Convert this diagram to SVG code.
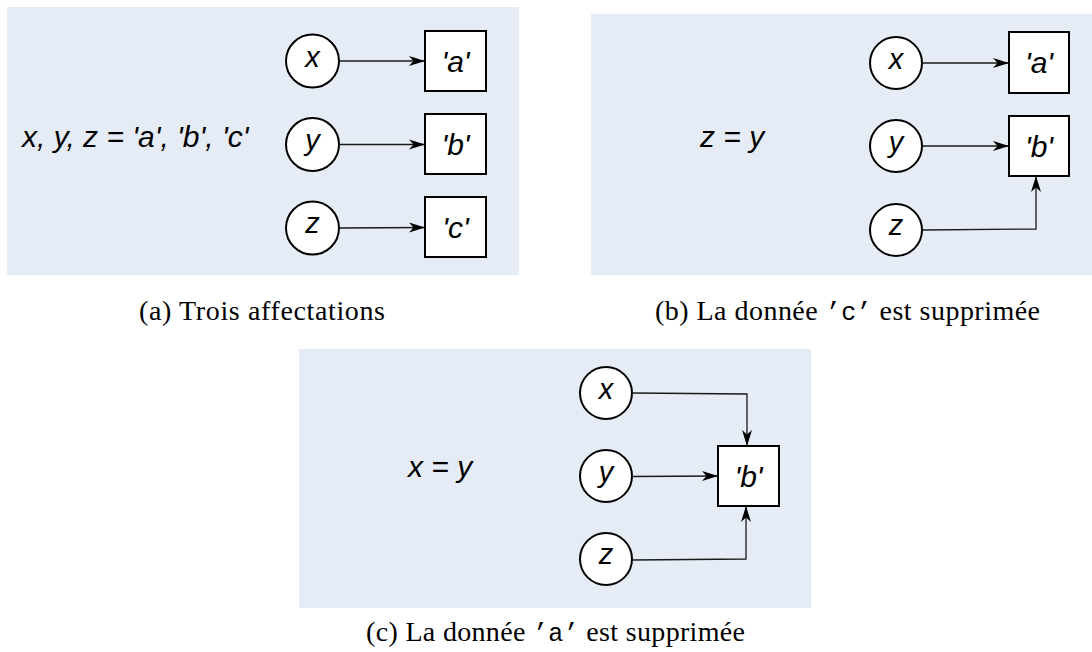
<svg xmlns="http://www.w3.org/2000/svg" width="1092" height="652" viewBox="0 0 1092 652">
<style>
.bg{fill:#e6ecf6;stroke:none}
.node circle{fill:#fff;stroke:#000;stroke-width:2}
.node rect{fill:#fff;stroke:#000;stroke-width:2}
.lbl{font-family:"Liberation Sans",Arial,sans-serif;font-style:italic;fill:#000;text-anchor:middle}
.cl{font-size:29px}
.bl{font-size:30px}
.stmt{font-family:"Liberation Sans",Arial,sans-serif;font-style:italic;font-size:30px;fill:#000}
.cap{font-family:"Liberation Serif","Times New Roman",serif;font-size:28px;fill:#000}
.tt{font-family:"Liberation Mono","Courier New",monospace;font-size:25px}
.conn path{fill:none;stroke:#1a1a1a;stroke-width:1.3;marker-end:url(#arr)}
</style>
<defs>
<marker id="arr" viewBox="-16 -6 17 12" refX="0" refY="0" markerWidth="17" markerHeight="12" markerUnits="userSpaceOnUse" orient="auto">
<path d="M0,0 L-16,-5 L-11.5,0 L-16,5 Z" fill="#000"/>
</marker>
</defs>
<rect class="bg" x="7" y="7" width="512" height="268"/>
<rect class="bg" x="591" y="14" width="501" height="261"/>
<rect class="bg" x="299" y="349" width="512" height="259"/>

<!-- panel a -->
<text class="stmt" x="22" y="147">x, y, z = 'a', 'b', 'c'</text>
<g id="a-x" class="node"><circle cx="312.5" cy="61" r="26.5"/><text class="lbl cl" x="312.5" y="67">x</text></g>
<g id="a-y" class="node"><circle cx="312.5" cy="144.5" r="26.5"/><text class="lbl cl" x="312.5" y="150">y</text></g>
<g id="a-z" class="node"><circle cx="312.5" cy="228" r="26.5"/><text class="lbl cl" x="312.5" y="233">z</text></g>
<g id="a-va" class="node"><rect x="425" y="31" width="61" height="60"/><text class="lbl bl" x="455.5" y="71.5">'a'</text></g>
<g id="a-vb" class="node"><rect x="425" y="114" width="61" height="60"/><text class="lbl bl" x="455.5" y="154.5">'b'</text></g>
<g id="a-vc" class="node"><rect x="425" y="197" width="61" height="60"/><text class="lbl bl" x="455.5" y="237.5">'c'</text></g>
<g id="a-conn" class="conn">
<path d="M339,61 L425,61"/>
<path d="M339,144.5 L425,144.5"/>
<path d="M339,228 L425,227.5"/>
</g>
<text class="cap" x="139" y="320" textLength="246">(a) Trois affectations</text>

<!-- panel b -->
<text class="stmt" x="700" y="147">z = y</text>
<g id="b-x" class="node"><circle cx="896" cy="63" r="26"/><text class="lbl cl" x="896" y="69">x</text></g>
<g id="b-y" class="node"><circle cx="896" cy="146" r="26"/><text class="lbl cl" x="896" y="152">y</text></g>
<g id="b-z" class="node"><circle cx="896" cy="230" r="26"/><text class="lbl cl" x="896" y="235">z</text></g>
<g id="b-va" class="node"><rect x="1009" y="32" width="60" height="61"/><text class="lbl bl" x="1039" y="73">'a'</text></g>
<g id="b-vb" class="node"><rect x="1009" y="116" width="60" height="60"/><text class="lbl bl" x="1039" y="156.5">'b'</text></g>
<g id="b-conn" class="conn">
<path d="M922,63 L1009,63"/>
<path d="M922,146 L1009,146"/>
<path d="M922,230 L1036,229 L1036,176"/>
</g>
<text class="cap" x="655" y="320" textLength="385">(b) La donnée <tspan class="tt">’c’</tspan> est supprimée</text>

<!-- panel c -->
<text class="stmt" x="408" y="477">x = y</text>
<g id="c-x" class="node"><circle cx="606" cy="393" r="26"/><text class="lbl cl" x="606" y="399">x</text></g>
<g id="c-y" class="node"><circle cx="606" cy="476" r="26"/><text class="lbl cl" x="606" y="482">y</text></g>
<g id="c-z" class="node"><circle cx="606" cy="559" r="26"/><text class="lbl cl" x="606" y="564">z</text></g>
<g id="c-vb" class="node"><rect x="718" y="446" width="61" height="60"/><text class="lbl bl" x="748.5" y="486.5">'b'</text></g>
<g id="c-conn" class="conn">
<path d="M632,393 L747,394 L747,446"/>
<path d="M632,476.5 L718,476"/>
<path d="M632,560 L746,559 L746,506"/>
</g>
<text class="cap" x="366" y="641" textLength="379">(c) La donnée <tspan class="tt">’a’</tspan> est supprimée</text>
</svg>
